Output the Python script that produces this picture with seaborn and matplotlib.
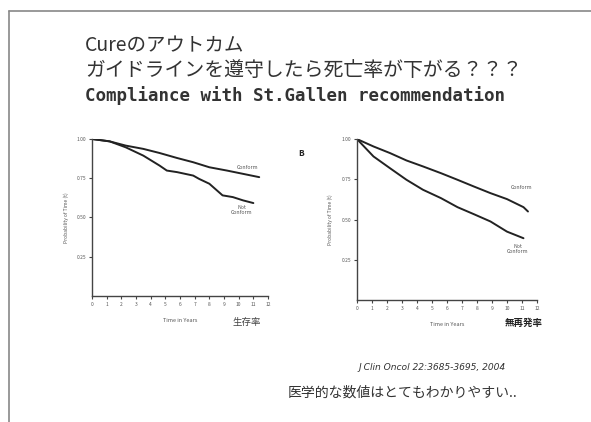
import numpy as np
import pandas as pd
import matplotlib
matplotlib.use("Agg")
import matplotlib.pyplot as plt
import seaborn as sns

sns.set_theme(style="white")
plt.rcParams['font.family'] = ['Noto Sans CJK JP', 'DejaVu Sans']

# Left panel (overall survival)
left_conform_t = [0, 1.2, 2.3, 3.5, 4.6, 5.8, 6.9, 8.0, 9.2, 10.3, 11.4]
left_conform_v = [1.0, 0.985, 0.958, 0.937, 0.911, 0.879, 0.852, 0.82, 0.799, 0.778, 0.757]
left_notconf_t = [0, 1.2, 2.3, 3.5, 4.6, 5.1, 5.8, 6.9, 7.3, 8.0, 8.9, 9.6, 10.3, 11.0]
left_notconf_v = [1.0, 0.985, 0.947, 0.894, 0.831, 0.799, 0.789, 0.767, 0.746, 0.715, 0.641, 0.63, 0.609, 0.592]

# Right panel (recurrence-free survival)
right_conform_t = [0, 1.1, 2.2, 3.3, 4.4, 5.6, 6.7, 7.8, 8.9, 10.0, 11.1, 11.4]
right_conform_v = [1.0, 0.954, 0.913, 0.867, 0.830, 0.788, 0.747, 0.705, 0.664, 0.627, 0.577, 0.55]
right_notconf_t = [0, 1.1, 2.2, 3.3, 4.4, 5.6, 6.7, 7.8, 8.9, 10.0, 11.1]
right_notconf_v = [1.0, 0.892, 0.819, 0.747, 0.685, 0.633, 0.577, 0.533, 0.488, 0.425, 0.384]

yticks = [0.25, 0.50, 0.75, 1.00]
ytick_labels = ["0.25", "0.50", "0.75", "1.00"]
xticks = list(range(0, 13))

title1 = "Cureのアウトカム"
title2 = "ガイドラインを遵守したら死亡率が下がる？？？"
title3 = "Compliance with St.Gallen recommendation"
citation = "J Clin Oncol 22:3685-3695, 2004"
comment = "医学的な数値はとてもわかりやすい.."


def make_df(ct, cv, nt, nv):
    return pd.concat([
        pd.DataFrame({"t": ct, "p": cv, "g": "Conform"}),
        pd.DataFrame({"t": nt, "p": nv, "g": "Not Conform"}),
    ], ignore_index=True)


fig = plt.figure(figsize=(5.91, 4.22), dpi=100)
fig.patch.set_facecolor("white")

axL = fig.add_axes([0.1557, 0.2986, 0.2978, 0.372])
axR = fig.add_axes([0.604, 0.289, 0.3046, 0.3815])

for ax, df in [(axL, make_df(left_conform_t, left_conform_v, left_notconf_t, left_notconf_v)),
               (axR, make_df(right_conform_t, right_conform_v, right_notconf_t, right_notconf_v))]:
    sns.lineplot(data=df, x="t", y="p", hue="g", palette=["#222222", "#222222"],
                 ax=ax, legend=False, linewidth=1.4)
    ax.set_xlim(0, 12)
    ax.set_ylim(0, 1.0)
    ax.set_xticks(xticks)
    ax.set_xticklabels([str(x) for x in xticks], fontsize=3.5, color="#555555")
    ax.set_yticks(yticks)
    ax.set_yticklabels(ytick_labels, fontsize=3.5, color="#555555")
    ax.tick_params(axis="both", length=2, width=0.8, color="#444444", pad=2,
                   bottom=True, left=True, direction="out")
    for s in ["top", "right"]:
        ax.spines[s].set_visible(False)
    for s in ["left", "bottom"]:
        ax.spines[s].set_color("#444444")
        ax.spines[s].set_linewidth(1.0)
    ax.set_xlabel("Time in Years", fontsize=4, color="#555555", labelpad=8)
    ax.set_ylabel("Probability of Time (t)", fontsize=3.5, color="#555555", labelpad=6)
    ax.set_facecolor("white")

# curve annotations
axL.text(10.6, 0.82, "Conform", fontsize=3.8, color="#555555", ha="center", va="center")
axL.text(10.2, 0.55, "Not\nConform", fontsize=3.8, color="#555555", ha="center", va="center",
         linespacing=1.0)
axR.text(11.0, 0.70, "Conform", fontsize=3.8, color="#555555", ha="center", va="center")
axR.text(10.7, 0.32, "Not\nConform", fontsize=3.8, color="#555555", ha="center", va="center",
         linespacing=1.0)

# panel label B
fig.text(301 / 591, 1 - 153 / 422, "B", fontsize=6, fontweight="bold", color="#222222",
         ha="center", va="center")

# sub labels
fig.text(247 / 591, 1 - 323 / 422, "生存率", fontsize=6.8, color="#444444", ha="center", va="center")
fig.text(524 / 591, 1 - 323 / 422, "無再発率", fontsize=6.8, color="#222222", fontweight="bold",
         ha="center", va="center")

# titles
fig.text(85 / 591, 1 - 46 / 422, title1, fontsize=14, color="#333333", ha="left", va="center")
fig.text(85 / 591, 1 - 71 / 422, title2, fontsize=14.3, color="#333333", ha="left", va="center")
fig.text(85 / 591, 1 - 96 / 422, title3, fontsize=12.6, color="#333333", ha="left", va="center",
         family="DejaVu Sans Mono", fontweight="bold")

# citation / comment
fig.text(432 / 591, 1 - 368 / 422, citation, fontsize=6.6, color="#333333", style="italic",
         ha="center", va="center", family="DejaVu Sans")
fig.text(288 / 591, 1 - 393 / 422, comment, fontsize=10, color="#333333",
         ha="left", va="center")

# slide frame (top and left edges)
fig.add_artist(plt.Line2D([9.5 / 591, 9.5 / 591], [0, 1 - 11 / 422], color="#888888", linewidth=1.2))
fig.add_artist(plt.Line2D([9.5 / 591, 1], [1 - 11 / 422, 1 - 11 / 422], color="#888888", linewidth=1.2))

fig.savefig("out.png", dpi=100, facecolor="white")
